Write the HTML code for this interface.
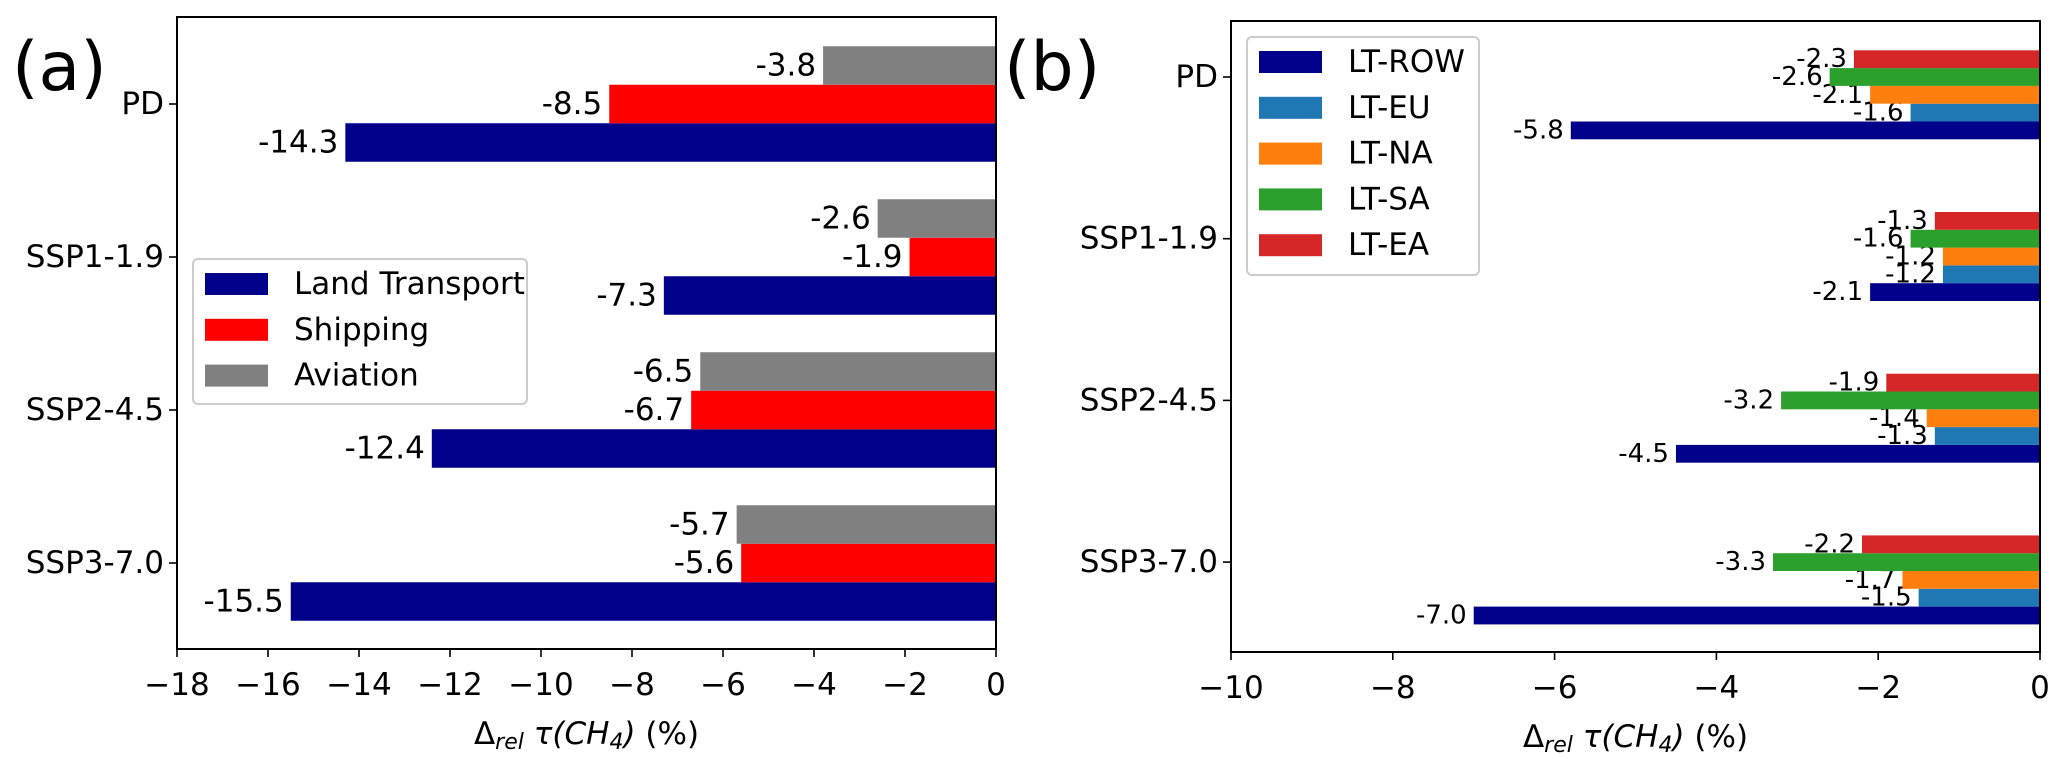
<!DOCTYPE html>
<html><head><meta charset="utf-8"><style>
html,body{margin:0;padding:0;background:#fff;}
svg{display:block;font-family:"DejaVu Sans","Liberation Sans",sans-serif;}
</style></head><body>
<svg id="fig" width="2067" height="759" viewBox="0 0 2067 759" xmlns="http://www.w3.org/2000/svg">
<text x="12" y="90" font-size="68">(a)</text>
<text x="1004" y="90" font-size="68">(b)</text>
<g id="pa"></g>
<g id="pb"></g>
</svg>
<script>
const categories = ["PD", "SSP1-1.9", "SSP2-4.5", "SSP3-7.0"];
const seriesA = ["Land Transport", "Shipping", "Aviation"];
const landTransport = [-14.3, -7.3, -12.4, -15.5];
const shipping = [-8.5, -1.9, -6.7, -5.6];
const aviation = [-3.8, -2.6, -6.5, -5.7];
const ticksA = [-18, -16, -14, -12, -10, -8, -6, -4, -2, 0];
const seriesB = ["LT-ROW", "LT-EU", "LT-NA", "LT-SA", "LT-EA"];
const ltROW = [-5.8, -2.1, -4.5, -7.0];
const ltEU = [-1.6, -1.2, -1.3, -1.5];
const ltNA = [-2.1, -1.2, -1.4, -1.7];
const ltSA = [-2.6, -1.6, -3.2, -3.3];
const ltEA = [-2.3, -1.3, -1.9, -2.2];
const ticksB = [-10, -8, -6, -4, -2, 0];

const NS = "http://www.w3.org/2000/svg";
function mk(parent, tag, attrs, txt) {
  const e = document.createElementNS(NS, tag);
  for (const k in attrs) e.setAttribute(k, attrs[k]);
  if (txt !== undefined) e.textContent = txt;
  parent.appendChild(e);
  return e;
}

function panel(g, cfg) {
  const xs = v => cfg.L + (v - cfg.xmin) / (cfg.xmax - cfg.xmin) * (cfg.R - cfg.L);
  const ys = i => cfg.y0 + i * cfg.step;
  // bars
  cfg.series.forEach((s, si) => {
    s.vals.forEach((v, ci) => {
      const cy = ys(ci) + s.off * cfg.bh;
      const x1 = xs(v), x2 = xs(0);
      const r = mk(g, "rect", {x: x1, y: cy - cfg.bh / 2, width: x2 - x1, height: cfg.bh, fill: s.color});
      
      
      const t = mk(g, "text", {x: x1 - 7, y: cy, "font-size": cfg.lfs, "text-anchor": "end", "dominant-baseline": "central"}, v.toFixed(1));
      
      
    });
  });
  // axes frame
  const f = mk(g, "rect", {x: cfg.L, y: cfg.T, width: cfg.R - cfg.L, height: cfg.B - cfg.T, fill: "none", stroke: "#000", "stroke-width": 2});
  
  
  // x ticks
  cfg.ticks.forEach(tv => {
    const x = xs(tv);
    mk(g, "line", {x1: x, x2: x, y1: cfg.B, y2: cfg.B + 8, stroke: "#000", "stroke-width": 1.6});
    const t = mk(g, "text", {x: x, y: cfg.B + 36, "font-size": 31, "text-anchor": "middle", "dominant-baseline": "central"}, tv < 0 ? "\u2212" + Math.abs(tv) : String(tv));
    
    
  });
  // y ticks
  categories.forEach((c, ci) => {
    const y = ys(ci);
    mk(g, "line", {x1: cfg.L - 8, x2: cfg.L, y1: y, y2: y, stroke: "#000", "stroke-width": 1.6});
    const t = mk(g, "text", {x: cfg.L - 13, y: y, "font-size": 31, "text-anchor": "end", "dominant-baseline": "central"}, c);
    
    
  });
  // x label
  const xl = mk(g, "text", {x: (cfg.L + cfg.R) / 2, y: cfg.B + 85, "font-size": 31, "text-anchor": "middle", "dominant-baseline": "central"});
  
  
  xl.innerHTML = '\u0394<tspan font-style="italic" font-size="22" dy="8">rel</tspan><tspan dy="-8"> </tspan><tspan font-style="italic">\u03c4(CH</tspan><tspan font-style="italic" font-size="22" dy="8">4</tspan><tspan font-style="italic" dy="-8">)</tspan> (%)';
  // legend
  const lg = mk(g, "g", {});
  
  
  mk(lg, "rect", {x: cfg.lgx, y: cfg.lgy, width: cfg.lgw, height: cfg.lgh, rx: 5, fill: "#fff", "fill-opacity": 0.85, stroke: "#ccc", "stroke-width": 2});
  cfg.legend.forEach((s, i) => {
    const y = cfg.lgy + 14 + i * 45.8;
    const e = mk(lg, "g", {});
    
    
    mk(e, "rect", {x: cfg.lgx + 12, y: y, width: 63, height: 22, fill: s.color});
    mk(e, "text", {x: cfg.lgx + 101, y: y + 11, "font-size": 31, "dominant-baseline": "central"}, s.name);
  });
}

const colA = {lt: "#00008b", sh: "#ff0000", av: "#808080"};
const serA = [
  {key: "land-transport", name: seriesA[0], vals: landTransport, color: colA.lt, off: 1},
  {key: "shipping", name: seriesA[1], vals: shipping, color: colA.sh, off: 0},
  {key: "aviation", name: seriesA[2], vals: aviation, color: colA.av, off: -1}
];
panel(document.getElementById("pa"), {
  L: 177, R: 996, T: 17, B: 649, xmin: -18, xmax: 0, y0: 104, step: 153, bh: 38.5, lfs: 31,
  series: serA, ticks: ticksA, legend: serA,
  lgx: 193, lgy: 259, lgw: 334, lgh: 145
});

const serB = [
  {key: "lt-row", name: seriesB[0], vals: ltROW, color: "#00008b", off: 3},
  {key: "lt-eu", name: seriesB[1], vals: ltEU, color: "#1f77b4", off: 2},
  {key: "lt-na", name: seriesB[2], vals: ltNA, color: "#ff7f0e", off: 1},
  {key: "lt-sa", name: seriesB[3], vals: ltSA, color: "#2ca02c", off: 0},
  {key: "lt-ea", name: seriesB[4], vals: ltEA, color: "#d62728", off: -1}
];
panel(document.getElementById("pb"), {
  L: 1231, R: 2040, T: 21, B: 652, xmin: -10, xmax: 0, y0: 77, step: 161.7, bh: 17.8, lfs: 26,
  series: serB, ticks: ticksB, legend: serB,
  lgx: 1247, lgy: 37, lgw: 232, lgh: 238
});
</script>
</body></html>
